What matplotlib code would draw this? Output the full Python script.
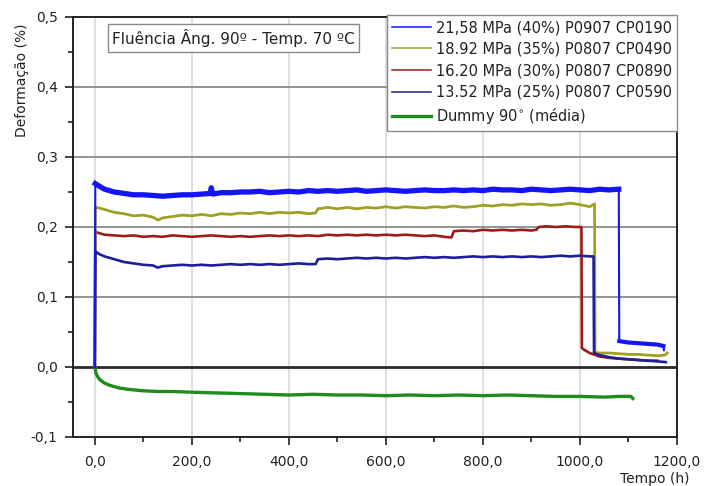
import matplotlib
matplotlib.use("Agg")
import matplotlib.pyplot as plt
from matplotlib.lines import Line2D
from matplotlib.ticker import FuncFormatter, MultipleLocator

plt.rcParams['font.family'] = ['DejaVu Sans']

# ---------------- data (time in h, deformation in %) ----------------
blue_t = [0, 1, 10, 20, 30, 40, 60, 80, 100, 120, 140, 160, 180, 200, 220,
          238, 240, 243, 260, 280, 300, 320, 340, 360, 380, 400,
          420, 440, 460, 480, 500, 520, 540, 560, 580, 600,
          620, 640, 660, 680, 700, 720, 740, 760, 780, 800,
          820, 840, 860, 880, 900, 920, 940, 960, 980, 1000,
          1020, 1040, 1060, 1080, 1081, 1090, 1100, 1120, 1140, 1160, 1172, 1173]
blue_v = [0.0, 0.262, 0.258, 0.254, 0.252, 0.250,
          0.248, 0.246, 0.246, 0.245, 0.244, 0.245, 0.246, 0.246, 0.247,
          0.248, 0.256, 0.247,
          0.249, 0.249, 0.250, 0.250, 0.251, 0.249, 0.250, 0.251,
          0.250, 0.252, 0.251, 0.252, 0.251, 0.252, 0.253, 0.251, 0.252, 0.253,
          0.252, 0.251, 0.252, 0.253, 0.252, 0.252, 0.253, 0.252, 0.253, 0.252,
          0.254, 0.253, 0.253, 0.252, 0.254, 0.253, 0.252, 0.253, 0.254, 0.253,
          0.252, 0.254, 0.253, 0.254,
          0.037, 0.036, 0.035, 0.034, 0.033, 0.032, 0.030, 0.024]

olive_t = [0, 1, 10, 20, 40, 60, 80, 100, 120, 130,
           140, 160, 180, 200, 220, 240, 260, 280, 300, 320,
           340, 360, 380, 400, 420, 440, 455, 460, 480, 500,
           520, 540, 560, 580, 600, 620, 640, 660, 680, 700,
           720, 740, 760, 780, 800, 820, 840, 860, 880, 900,
           920, 940, 960, 980, 1000, 1020, 1030, 1031, 1040, 1060,
           1080, 1100, 1120, 1140, 1160, 1175, 1180]
olive_v = [0.0, 0.228, 0.227, 0.225, 0.221, 0.219, 0.216, 0.217, 0.214, 0.210,
           0.213, 0.215, 0.217, 0.216, 0.218, 0.216, 0.219, 0.218, 0.220, 0.219,
           0.221, 0.219, 0.221, 0.220, 0.221, 0.219, 0.220, 0.226, 0.228, 0.226,
           0.228, 0.226, 0.228, 0.227, 0.229, 0.227, 0.229, 0.228, 0.227, 0.229,
           0.228, 0.230, 0.228, 0.229, 0.231, 0.230, 0.232, 0.231, 0.233, 0.232,
           0.233, 0.231, 0.232, 0.234, 0.232, 0.229, 0.233, 0.021, 0.020, 0.020,
           0.019, 0.018, 0.018, 0.017, 0.016, 0.017, 0.020]

red_t = [0, 1, 10, 20, 40, 60, 80, 100, 120, 140,
         160, 180, 200, 220, 240, 260, 280, 300, 320, 340,
         360, 380, 400, 420, 440, 460, 480, 500, 520, 540,
         560, 580, 600, 620, 640, 660, 680, 700, 720, 735,
         740, 760, 780, 800, 820, 840, 860, 880, 900, 910,
         915, 930, 950, 970, 990, 1003, 1004, 1010, 1020, 1040,
         1060, 1080, 1100, 1120, 1140, 1160]
red_v = [0.0, 0.193, 0.191, 0.189, 0.188, 0.187, 0.188, 0.186, 0.187, 0.186,
         0.188, 0.187, 0.186, 0.187, 0.188, 0.187, 0.186, 0.187, 0.186, 0.187,
         0.188, 0.187, 0.188, 0.187, 0.188, 0.187, 0.189, 0.188, 0.189, 0.188,
         0.189, 0.188, 0.189, 0.188, 0.189, 0.188, 0.187, 0.188, 0.186, 0.185,
         0.194, 0.195, 0.194, 0.196, 0.195, 0.196, 0.195, 0.196, 0.195, 0.196,
         0.200, 0.201, 0.200, 0.201, 0.200, 0.200, 0.027, 0.024, 0.020, 0.015,
         0.013, 0.012, 0.011, 0.010, 0.009, 0.009]

navy_t = [0, 1, 10, 20, 40, 60, 80, 100, 120, 130,
          140, 160, 180, 200, 220, 240, 260, 280, 300, 320,
          340, 360, 380, 400, 420, 440, 455, 460, 480, 500,
          520, 540, 560, 580, 600, 620, 640, 660, 680, 700,
          720, 740, 760, 780, 800, 820, 840, 860, 880, 900,
          920, 940, 960, 980, 1000, 1020, 1028, 1029, 1040, 1060,
          1080, 1100, 1120, 1140, 1160, 1177]
navy_v = [0.0, 0.165, 0.161, 0.158, 0.154, 0.150, 0.148, 0.146, 0.145, 0.142,
          0.144, 0.145, 0.146, 0.145, 0.146, 0.145, 0.146, 0.147, 0.146, 0.147,
          0.146, 0.147, 0.146, 0.147, 0.148, 0.147, 0.147, 0.154, 0.155, 0.154,
          0.155, 0.156, 0.155, 0.156, 0.155, 0.156, 0.155, 0.156, 0.157, 0.156,
          0.157, 0.156, 0.157, 0.158, 0.157, 0.158, 0.157, 0.158, 0.157, 0.158,
          0.157, 0.158, 0.159, 0.158, 0.159, 0.158, 0.158, 0.020, 0.017, 0.014,
          0.012, 0.011, 0.010, 0.009, 0.008, 0.007]

green_t = [0, 2, 5, 10, 20, 30, 40, 50, 70, 100,
           130, 160, 200, 250, 300, 350, 400, 450, 500, 550,
           600, 650, 700, 750, 800, 850, 900, 950, 1000, 1050,
           1080, 1100, 1105, 1109]
green_v = [0.0, -0.008, -0.013, -0.018, -0.023, -0.026, -0.028, -0.030, -0.032, -0.034,
           -0.035, -0.035, -0.036, -0.037, -0.038, -0.039, -0.040, -0.039, -0.040, -0.040,
           -0.041, -0.040, -0.041, -0.040, -0.041, -0.040, -0.041, -0.042, -0.042, -0.043,
           -0.042, -0.042, -0.042, -0.045]

labels = ["21,58 MPa (40%) P0907 CP0190",
          "18.92 MPa (35%) P0807 CP0490",
          "16.20 MPa (30%) P0807 CP0890",
          "13.52 MPa (25%) P0807 CP0590",
          "Dummy 90$^{\\circ}$ (média)"]
colors = ['#1414f5', '#a0a024', '#a01a1a', '#1e1e98', '#1f8c1f']

x_ticks = [0, 200, 400, 600, 800, 1000, 1200]
y_ticks = [-0.1, 0.0, 0.1, 0.2, 0.3, 0.4, 0.5]

# ---------------- figure ----------------
fig = plt.figure(figsize=(7.04, 4.86), dpi=100)
ax = fig.add_axes([73/704, 1-437/486, (677-73)/704, (437-17)/486])

ax.set_xlim(-45, 1200)
ax.set_ylim(-0.1, 0.5)

# grid
for xv in x_ticks:
    ax.axvline(xv, color='#dcdcdc', lw=1.3, zorder=0)
for yv in y_ticks[2:-1]:
    ax.axhline(yv, color='#8a8a8a', lw=1.3, zorder=0.5)
ax.axhline(0.0, color='#2a2a2a', lw=2.0, zorder=0.6)

ax.plot(green_t, green_v, color=colors[4], lw=2.4, zorder=2)
ax.plot(red_t, red_v, color=colors[2], lw=1.9, zorder=3)
ax.plot(olive_t, olive_v, color=colors[1], lw=2.0, zorder=3)
ax.plot(navy_t, navy_v, color=colors[3], lw=1.9, zorder=4)
# blue: thin connecting steps, thick noisy plateaus
ax.plot(blue_t, blue_v, color=colors[0], lw=1.5, zorder=5)
drop = blue_t.index(1081)
ax.plot(blue_t[1:drop], blue_v[1:drop], color=colors[0], lw=3.8, zorder=5)
ax.plot(blue_t[drop:-1], blue_v[drop:-1], color=colors[0], lw=3.0, zorder=5)

# ticks
ax.set_xticks(x_ticks)
ax.set_yticks(y_ticks)
ax.xaxis.set_minor_locator(MultipleLocator(100))
ax.yaxis.set_minor_locator(MultipleLocator(0.05))
ax.xaxis.set_major_formatter(FuncFormatter(lambda v, p: f"{v:.1f}".replace('.', ',')))
ax.yaxis.set_major_formatter(FuncFormatter(lambda v, p: f"{v:.1f}".replace('.', ',').replace('-0,0', '0,0')))
ax.tick_params(axis='both', which='major', direction='out', length=6, width=1.2,
               labelsize=10, color='#222222', labelcolor='#222222')
ax.tick_params(axis='both', which='minor', direction='out', length=3.5, width=1.2,
               color='#222222')
ax.tick_params(axis='x', which='major', pad=7)
ax.tick_params(axis='y', which='major', pad=5)
for s in ax.spines.values():
    s.set_linewidth(1.4)
    s.set_color('#222222')

# title box
ax.text(0.2657, 0.95, "Fluência Âng. 90º - Temp. 70 ºC", transform=ax.transAxes,
        ha='center', va='center', fontsize=11, color='#222222',
        bbox=dict(boxstyle='square,pad=0.3', fc='white', ec='#8a8a8a', lw=1.0),
        zorder=6)

# legend
handles = [Line2D([], [], color=colors[0], lw=1.1),
           Line2D([], [], color=colors[1], lw=1.1),
           Line2D([], [], color=colors[2], lw=1.1),
           Line2D([], [], color=colors[3], lw=1.1),
           Line2D([], [], color=colors[4], lw=2.4)]
leg = ax.legend(handles, labels, loc='upper right', bbox_to_anchor=(1.0, 1.005),
                borderaxespad=0.0, fontsize=10.5, handlelength=2.7, handletextpad=0.3,
                borderpad=0.35, labelspacing=0.45, fancybox=False, framealpha=1.0,
                edgecolor='#8a8a8a')
leg.get_frame().set_linewidth(1.0)
for t in leg.get_texts():
    t.set_color('#222222')
leg.set_zorder(7)

fig.text(22/704, 1-80/486, "Deformação (%)", rotation=90, ha='center', va='center',
         fontsize=10, color='#222222')
fig.text(655/704, 1-479/486, "Tempo (h)", ha='center', va='center',
         fontsize=10, color='#222222')

fig.savefig("out.png", dpi=100)
